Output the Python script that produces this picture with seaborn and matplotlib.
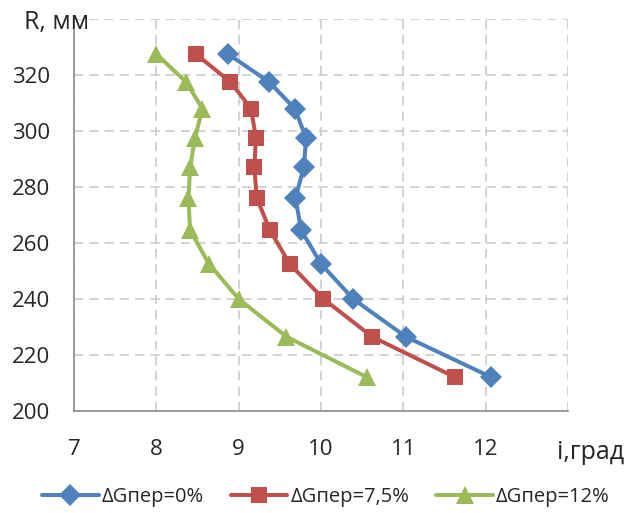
import matplotlib
matplotlib.use("Agg")
import matplotlib.pyplot as plt
import seaborn as sns
import pandas as pd

R = [327.5, 317.5, 308, 297.5, 287, 276, 264.5, 252.5, 240, 226.5, 212]
i_0 = [8.87, 9.37, 9.68, 9.82, 9.79, 9.69, 9.76, 10.0, 10.39, 11.03, 12.07]
i_75 = [8.48, 8.90, 9.15, 9.21, 9.19, 9.22, 9.38, 9.62, 10.03, 10.62, 11.63]
i_12 = [8.0, 8.36, 8.56, 8.47, 8.41, 8.39, 8.41, 8.64, 9.0, 9.58, 10.56]
labels = ["ΔGпер=0%", "ΔGпер=7,5%", "ΔGпер=12%"]
xticks = [7, 8, 9, 10, 11, 12]
yticks = [200, 220, 240, 260, 280, 300, 320]

sns.set_style("white")
plt.rcParams['font.family'] = ['Open Sans', 'DejaVu Sans']

fig = plt.figure(figsize=(6.27, 5.13), dpi=100)
ax = fig.add_axes([0.118, 0.199, 0.788, 0.764])

colors = ["#4F81BD", "#C0504D", "#9BBB59"]
markers = ["D", "s", "^"]
msizes = [11, 12, 13]
for vals, lab, c, m, ms in zip([i_0, i_75, i_12], labels, colors, markers, msizes):
    df = pd.DataFrame({"i": vals, "R": R})
    sns.lineplot(data=df, x="i", y="R", sort=False, estimator=None, ax=ax, color=c, lw=2.9,
                 marker=m, markersize=ms, markeredgewidth=0, label=lab)

ax.set_xlim(7, 13)
ax.set_ylim(200, 340)
ax.set_xticks(xticks + [13])
ax.set_xticklabels([str(t) for t in xticks] + [""])
ax.set_yticks(yticks + [340])
ax.set_yticklabels([str(t) for t in yticks] + [""])
ax.tick_params(length=0, labelsize=16)
ax.tick_params(axis='y', pad=17)
ax.tick_params(axis='x', pad=20)
ax.grid(True, color="#C8C8C8", linestyle=(0, (6, 4)), lw=1.1)
for s in ["top", "right"]:
    ax.spines[s].set_visible(False)
for s in ["left", "bottom"]:
    ax.spines[s].set_color("#8C8C8C")
    ax.spines[s].set_linewidth(1.2)
ax.set_xlabel("")
ax.set_ylabel("")

fig.text(0.038, 0.957, "R, мм", fontsize=18, ha="left", va="center")
fig.text(0.995, 0.117, "i,град", fontsize=18, ha="right", va="center")

leg = ax.legend(loc="center", bbox_to_anchor=(0.51, -0.219), ncol=3, frameon=False,
                fontsize=14.5, handlelength=2.8, columnspacing=1.35, handletextpad=0.15)

fig.savefig("out.png", dpi=100)
